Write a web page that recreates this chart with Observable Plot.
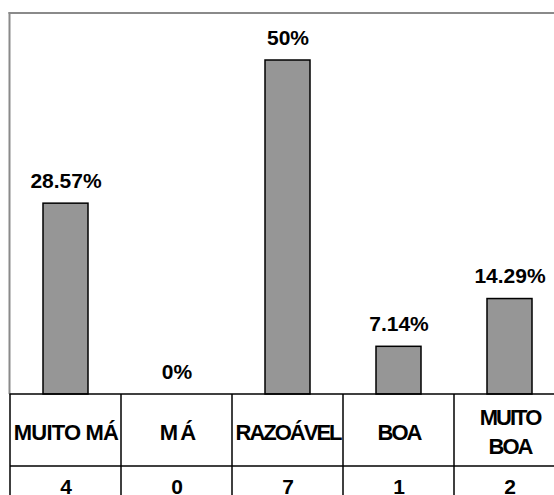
<!DOCTYPE html>
<html><head><meta charset="utf-8">
<script src="https://cdn.jsdelivr.net/npm/d3@7"></script>
<script src="https://cdn.jsdelivr.net/npm/@observablehq/plot@0.6"></script>
<style>html,body{margin:0;padding:0;background:#fff;overflow:hidden} svg{display:block;max-width:none!important}</style>
</head><body><div id="chart"></div>
<script>
const categories = ["MUITO MÁ", "MÁ", "RAZOÁVEL", "BOA", "MUITO BOA"];
const categoryLabels = ["MUITO MÁ", "M Á", "RAZOÁVEL", "BOA", "MUITO\nBOA"];
const percentages = [28.57, 0, 50, 7.14, 14.29];
const percentLabels = ["28.57%", "0%", "50%", "7.14%", "14.29%"];
const counts = [4, 0, 7, 1, 2];

const data = categories.map((c, i) => ({
  cat: c, pct: percentages[i], pctLabel: percentLabels[i],
  label: categoryLabels[i], count: String(counts[i])
}));

const font = "'Liberation Sans', Arial, Helvetica, sans-serif";
const plot = Plot.plot({
  width: 554, height: 495,
  marginTop: 13, marginLeft: 9, marginRight: 0, marginBottom: 101,
  style: {fontFamily: font, background: "#fff"},
  x: {type: "band", domain: categories, range: [9.5, 564.5], padding: 0, axis: null},
  y: {domain: [0, 50], range: [394, 60], axis: null},
  marks: [
    Plot.barY(data, {x: "cat", y: "pct", fill: "#969696", stroke: "#000", strokeWidth: 1.5, insetLeft: 33, insetRight: 33}),
    Plot.text(data, {x: "cat", y: "pct", text: "pctLabel", lineAnchor: "bottom", dy: -16, fontSize: 21, fontWeight: "bold", fill: "#000"}),
    Plot.text(data, {x: "cat", text: "label", frameAnchor: "bottom", lineAnchor: "middle", dy: 36, fontSize: 22, fontWeight: "bold", lineHeight: 1.33, fill: "#000"}),
    Plot.text(data, {x: "cat", text: "count", frameAnchor: "bottom", lineAnchor: "middle", dy: 93, fontSize: 21, fontWeight: "bold", fill: "#000"})
  ]
});
document.getElementById("chart").appendChild(plot);

const xs = plot.scale("x");
const ys = plot.scale("y");
const svg = d3.select(plot);
const tightLabels = new Set(categoryLabels.map(s => s.replace("\n", "")));
svg.selectAll("text").each(function() {
  const t = this.textContent;
  if (tightLabels.has(t)) d3.select(this).style("letter-spacing", t === "MUITO MÁ" ? "-0.8px" : "-2px");
});
const base = ys.apply(0);
// outer gray border (left and top)
svg.append("rect").attr("x", 8.5).attr("y", 12).attr("width", 2).attr("height", base - 12).attr("fill", "#8a8a8a");
svg.append("rect").attr("x", 8.5).attr("y", 12).attr("width", 545.5).attr("height", 2).attr("fill", "#8a8a8a");
// table lines
const g = svg.append("g").attr("stroke", "#000").attr("stroke-width", 1.5);
g.append("line").attr("x1", 9.5).attr("x2", 554).attr("y1", base).attr("y2", base);
categories.forEach(c => {
  const x0 = xs.apply(c);
  g.append("line").attr("x1", x0).attr("x2", x0).attr("y1", base).attr("y2", 495);
});
g.append("line").attr("x1", xs.apply(categories[0])).attr("x2", 554).attr("y1", 466).attr("y2", 466);
</script>
</body></html>
